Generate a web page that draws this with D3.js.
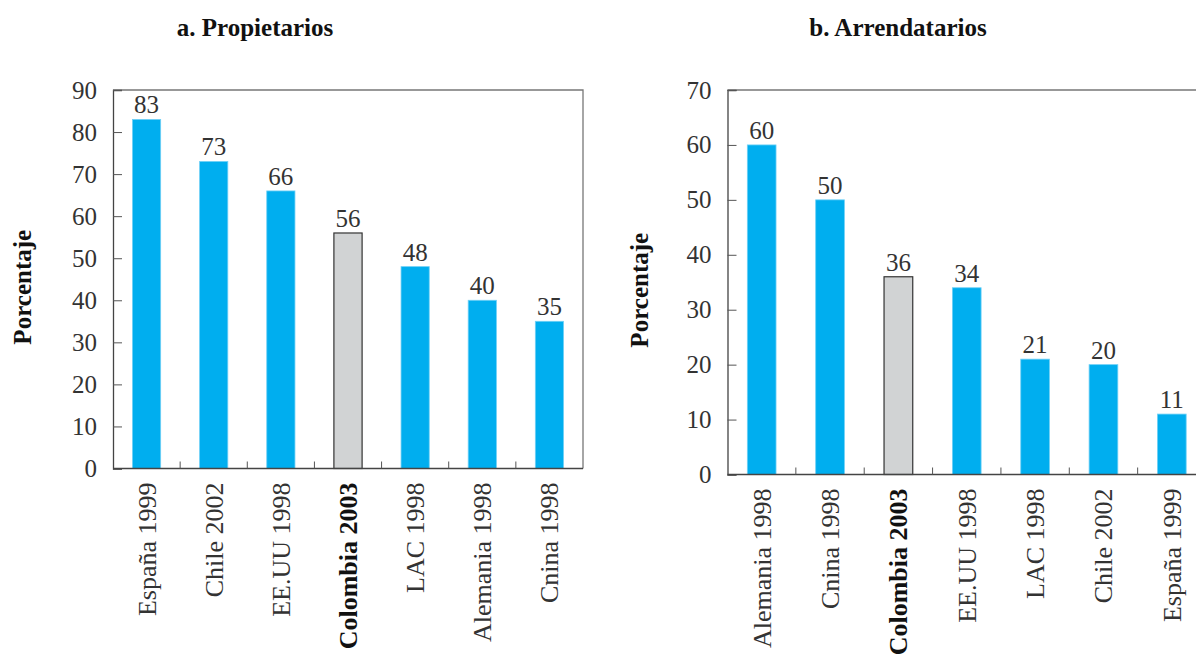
<!DOCTYPE html>
<html>
<head>
<meta charset="utf-8">
<script src="https://cdn.jsdelivr.net/npm/d3@7"></script>
<style>
  html, body { margin: 0; padding: 0; background: #fff; }
  svg { display: block; }
  svg text { font-family: "Liberation Serif", "Times New Roman", serif !important; fill: #333; }
</style>
</head>
<body>
<svg id="chart" width="1196" height="658"></svg>
<script>
// Panel a: owners
const ownersCategories = ["España 1999", "Chile 2002", "EE.UU 1998", "Colombia 2003", "LAC 1998", "Alemania 1998", "Cnina 1998"];
const ownersValues = [83, 73, 66, 56, 48, 40, 35];
const ownersTicks = [0, 10, 20, 30, 40, 50, 60, 70, 80, 90];

// Panel b: renters
const rentersCategories = ["Alemania 1998", "Cnina 1998", "Colombia 2003", "EE.UU 1998", "LAC 1998", "Chile 2002", "España 1999"];
const rentersValues = [60, 50, 36, 34, 21, 20, 11];
const rentersTicks = [0, 10, 20, 30, 40, 50, 60, 70];

const highlight = "Colombia 2003";
const serif = "'Liberation Serif', 'Times New Roman', serif";
const svg = d3.select("#chart");

function panel(opts) {
  const { title, titleX, ylabelX, left, right, top, bottom, yMax, cats, vals, ticks } = opts;
  const g = svg.append("g").attr("font-family", serif);

  const x = d3.scaleBand().domain(cats).range([left, right]).paddingInner(0.58).paddingOuter(0.29);
  const y = d3.scaleLinear().domain([0, yMax]).range([bottom, top]);

  // title
  g.append("text")
    .attr("x", titleX).attr("y", 36)
    .attr("text-anchor", "middle")
    .style("font-size", "25px").style("font-weight", "bold").style("fill", "#111")
    .text(title);

  // y axis title
  g.append("text")
    .attr("transform", `translate(${ylabelX},${(top + bottom) / 2 + 8}) rotate(-90)`)
    .attr("text-anchor", "middle")
    .style("font-size", "25px").style("font-weight", "bold").style("fill", "#111")
    .text("Porcentaje");

  // frame: top and right borders
  g.append("path")
    .attr("d", `M${left},${top}H${right}V${bottom}`)
    .attr("fill", "none").attr("stroke", "#777").attr("stroke-width", 1.3);

  // bars
  g.selectAll("rect.bar").data(cats).join("rect")
    .attr("class", "bar")
    .attr("x", d => x(d))
    .attr("width", x.bandwidth())
    .attr("y", (d, i) => y(vals[i]))
    .attr("height", (d, i) => bottom - y(vals[i]))
    .attr("fill", d => d === highlight ? "#d1d3d4" : "#00aeef")
    .attr("stroke", d => d === highlight ? "#333" : "#6fd0f6")
    .attr("stroke-width", d => d === highlight ? 1.2 : 0.8);

  // value labels
  g.selectAll("text.val").data(cats).join("text")
    .attr("class", "val")
    .attr("x", d => x(d) + x.bandwidth() / 2)
    .attr("y", (d, i) => y(vals[i]) - 6)
    .attr("text-anchor", "middle")
    .style("font-size", "25px")
    .text((d, i) => vals[i]);

  // y axis: ticks pointing inward
  const yAxis = d3.axisLeft(y).tickValues(ticks).tickSize(-9).tickPadding(16);
  const ya = g.append("g").attr("transform", `translate(${left},0)`).call(yAxis)
    .attr("font-family", serif);
  ya.select(".domain").attr("stroke", "#444").attr("stroke-width", 1.3);
  ya.selectAll(".tick line").attr("stroke", "#555");
  ya.selectAll(".tick text")
    .style("font-size", "25px").style("fill", "#333");

  // x axis: separator ticks between categories
  const xa = g.append("g").attr("transform", `translate(0,${bottom})`);
  xa.append("line").attr("x1", left).attr("x2", right).attr("stroke", "#444").attr("stroke-width", 1.3);
  const step = x.step();
  const seps = d3.range(1, cats.length).map(i => left + i * step);
  xa.selectAll("line.sep").data(seps).join("line")
    .attr("class", "sep")
    .attr("x1", d => d).attr("x2", d => d)
    .attr("y1", 0).attr("y2", -7)
    .attr("stroke", "#555");

  // category labels, rotated
  xa.selectAll("text.cat").data(cats).join("text")
    .attr("class", "cat")
    .attr("transform", d => `translate(${x(d) + x.bandwidth() / 2 + 9},${14}) rotate(-90)`)
    .attr("text-anchor", "end")
    .style("font-size", "26px")
    .style("font-weight", d => d === highlight ? "bold" : "normal")
    .style("fill", d => d === highlight ? "#111" : "#333")
    .text(d => d);
}

panel({
  title: "a. Propietarios", titleX: 255, ylabelX: 31,
  left: 113, right: 583, top: 90, bottom: 468.5, yMax: 90,
  cats: ownersCategories, vals: ownersValues, ticks: ownersTicks
});

panel({
  title: "b. Arrendatarios", titleX: 898, ylabelX: 648,
  left: 727.5, right: 1206, top: 90, bottom: 474.5, yMax: 70,
  cats: rentersCategories, vals: rentersValues, ticks: rentersTicks
});
</script>
</body>
</html>
